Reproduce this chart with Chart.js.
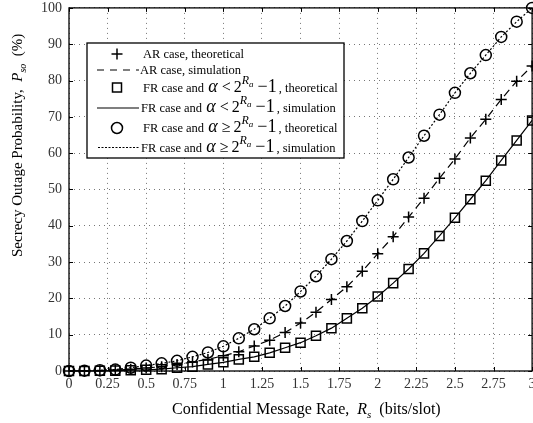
<!DOCTYPE html>
<html>
<head>
  <title>Secrecy outage probability</title>
  <script src="https://cdn.jsdelivr.net/npm/chart.js"></script>
  <style>
    body { margin: 0; overflow: hidden; background: #fff; }
  </style>
</head>
<body>
  <canvas id="myChart" width="540" height="423"></canvas>
  <script>
    // message rate Rs (bits/slot)
    var rates = [0, 0.1, 0.2, 0.3, 0.4, 0.5, 0.6, 0.7, 0.8, 0.9, 1.0,
                 1.1, 1.2, 1.3, 1.4, 1.5, 1.6, 1.7, 1.8, 1.9, 2.0,
                 2.1, 2.2, 2.3, 2.4, 2.5, 2.6, 2.7, 2.8, 2.9, 3.0];
    // AR case (%)
    var arCase = [0, 0.03, 0.1, 0.25, 0.5, 0.8, 1.2, 1.8, 2.5, 3.2, 4.2,
                  5.3, 6.9, 8.5, 10.6, 13.2, 16.2, 19.7, 23.2, 27.5, 32.3,
                  37.0, 42.4, 47.6, 53.1, 58.4, 64.2, 69.3, 74.8, 79.8, 84];
    // FR case, alpha < 2^Ra - 1 (%)
    var frLow = [0, 0.02, 0.05, 0.1, 0.2, 0.35, 0.5, 0.9, 1.2, 1.8, 2.4,
                 3.2, 3.9, 5.0, 6.4, 7.8, 9.7, 11.8, 14.5, 17.3, 20.5,
                 24.2, 28.1, 32.4, 37.2, 42.2, 47.3, 52.4, 58.0, 63.5, 69];
    // FR case, alpha >= 2^Ra - 1 (%)
    var frHigh = [0, 0.1, 0.2, 0.4, 0.9, 1.5, 2.1, 2.8, 3.9, 5.1, 6.8,
                  9.0, 11.5, 14.5, 17.9, 21.9, 26.1, 30.8, 35.8, 41.3, 47.0,
                  52.8, 58.8, 64.8, 70.6, 76.6, 82.0, 87.0, 92.0, 96.2, 100];
    var xTicks = [0, 0.25, 0.5, 0.75, 1, 1.25, 1.5, 1.75, 2, 2.25, 2.5, 2.75, 3];

    var serif = 'Liberation Serif';

    function puntos(arr) {
      return rates.map(function (r, i) { return { x: r, y: arr[i] }; });
    }

    // dibuja texto con trozos de distinta fuente (sub/superindices)
    function textoRico(ctx, x, y, partes) {
      for (var i = 0; i < partes.length; i++) {
        var p = partes[i];
        x += p.gap || 0;
        ctx.font = p.f;
        ctx.fillText(p.t, x, y + (p.dy || 0));
        x += ctx.measureText(p.t).width;
      }
      return x;
    }

    function formula(sign, cola) {
      return [
        { t: 'FR case and ', f: '12.5px ' + serif },
        { t: '\u03b1', f: 'italic 18px ' + serif, gap: 1 },
        { t: sign, f: '16px ' + serif, gap: 4 },
        { t: '2', f: '16px ' + serif, gap: 3 },
        { t: 'R', f: 'italic 12px ' + serif, dy: -8 },
        { t: 'a', f: 'italic 9px ' + serif, dy: -5 },
        { t: '\u2212', f: '18px ' + serif, gap: 4 },
        { t: '1', f: '18px ' + serif },
        { t: cola, f: '12.5px ' + serif, gap: 2 }
      ];
    }

    var decor = {
      id: 'decor',
      beforeDatasetsDraw: function (chart) {
        var ctx = chart.ctx, a = chart.chartArea;
        var sx = chart.scales.x, sy = chart.scales.y;
        ctx.save();
        ctx.strokeStyle = '#000';
        ctx.lineWidth = 1.3;
        ctx.strokeRect(a.left, a.top, a.right - a.left, a.bottom - a.top);
        ctx.lineWidth = 1;
        ctx.beginPath();
        sy.ticks.forEach(function (t) {
          var y = Math.round(sy.getPixelForValue(t.value)) + 0.5;
          ctx.moveTo(a.left, y); ctx.lineTo(a.left + 4, y);
          ctx.moveTo(a.right, y); ctx.lineTo(a.right - 4, y);
        });
        sx.ticks.forEach(function (t) {
          var x = Math.round(sx.getPixelForValue(t.value)) + 0.5;
          ctx.moveTo(x, a.bottom); ctx.lineTo(x, a.bottom - 4);
          ctx.moveTo(x, a.top); ctx.lineTo(x, a.top + 4);
        });
        ctx.stroke();
        ctx.restore();
      },
      afterDraw: function (chart) {
        var ctx = chart.ctx;
        ctx.save();
        ctx.fillStyle = '#000';
        ctx.textBaseline = 'alphabetic';

        // titulo eje x
        textoRico(ctx, 172, 414, [
          { t: 'Confidential Message Rate,  ', f: '16px ' + serif },
          { t: 'R', f: 'italic 16px ' + serif },
          { t: 's', f: 'italic 11px ' + serif, dy: 4 },
          { t: '  (bits/slot)', f: '16px ' + serif }
        ]);

        // titulo eje y
        ctx.save();
        ctx.translate(22, 257);
        ctx.rotate(-Math.PI / 2);
        textoRico(ctx, 0, 0, [
          { t: 'Secrecy Outage Probability,  ', f: '15px ' + serif },
          { t: 'P', f: 'italic 15px ' + serif },
          { t: 'so', f: 'italic 10px ' + serif, dy: 4 },
          { t: '  (%)', f: '15px ' + serif }
        ]);
        ctx.restore();

        // leyenda
        ctx.fillStyle = '#fff';
        ctx.fillRect(87, 43, 257, 115);
        ctx.strokeStyle = '#000';
        ctx.lineWidth = 1.3;
        ctx.strokeRect(87, 43, 257, 115);

        ctx.lineWidth = 1.5;
        // cruz
        ctx.beginPath();
        ctx.moveTo(111.5, 54); ctx.lineTo(122.5, 54);
        ctx.moveTo(117, 48.5); ctx.lineTo(117, 59.5);
        ctx.stroke();
        // cuadrado
        ctx.strokeRect(112.5, 83, 9, 9);
        // circulo
        ctx.beginPath();
        ctx.arc(117, 128, 5.5, 0, Math.PI * 2);
        ctx.stroke();
        // lineas
        ctx.lineWidth = 1.2;
        ctx.setLineDash([7, 6]);
        ctx.beginPath(); ctx.moveTo(97, 70); ctx.lineTo(139, 70); ctx.stroke();
        ctx.setLineDash([]);
        ctx.beginPath(); ctx.moveTo(97, 108); ctx.lineTo(139, 108); ctx.stroke();
        ctx.setLineDash([2, 1.5]);
        ctx.beginPath(); ctx.moveTo(98, 147.5); ctx.lineTo(139, 147.5); ctx.stroke();
        ctx.setLineDash([]);

        ctx.fillStyle = '#000';
        textoRico(ctx, 143, 58, [{ t: 'AR case, theoretical', f: '12.5px ' + serif }]);
        textoRico(ctx, 140, 74, [{ t: 'AR case, simulation', f: '12.5px ' + serif }]);
        textoRico(ctx, 143, 92, formula('<', ', theoretical'));
        textoRico(ctx, 141, 112, formula('<', ', simulation'));
        textoRico(ctx, 143, 132, formula('\u2265', ', theoretical'));
        textoRico(ctx, 141, 152, formula('\u2265', ', simulation'));
        ctx.restore();
      }
    };

    function serie(arr, extra) {
      var d = {
        data: puntos(arr),
        borderColor: '#000',
        backgroundColor: 'rgba(0,0,0,0)',
        clip: false
      };
      for (var k in extra) d[k] = extra[k];
      return d;
    }

    var ctx = document.getElementById('myChart').getContext('2d');
    new Chart(ctx, {
      type: 'line',
      data: {
        datasets: [
          serie(frLow, { showLine: true, borderWidth: 1.2, pointRadius: 0 }),
          serie(arCase, { showLine: true, borderWidth: 1.2, borderDash: [8, 5], pointRadius: 0 }),
          serie(frHigh, { showLine: true, borderWidth: 1.2, borderDash: [2, 2], pointRadius: 0 }),
          serie(frLow, { showLine: false, pointStyle: 'rect', pointRadius: 6.4, pointBorderWidth: 1.5, pointBorderColor: '#000', pointBackgroundColor: 'rgba(0,0,0,0)' }),
          serie(arCase, { showLine: false, pointStyle: 'cross', pointRadius: 5.5, pointBorderWidth: 1.5, pointBorderColor: '#000' }),
          serie(frHigh, { showLine: false, pointStyle: 'circle', pointRadius: 5.5, pointBorderWidth: 1.5, pointBorderColor: '#000', pointBackgroundColor: 'rgba(0,0,0,0)' })
        ]
      },
      options: {
        responsive: false,
        devicePixelRatio: 1,
        animation: false,
        layout: { padding: { top: 5, right: 7, left: 0, bottom: 0 } },
        plugins: { legend: { display: false }, tooltip: { enabled: false } },
        elements: { line: { tension: 0 } },
        scales: {
          x: {
            type: 'linear',
            min: 0,
            max: 3,
            afterBuildTicks: function (s) {
              s.ticks = xTicks.map(function (v) { return { value: v }; });
            },
            afterFit: function (s) {
              s.height = 52;
              s.paddingLeft = 0;
              s.paddingRight = 0;
            },
            ticks: {
              autoSkip: false,
              maxRotation: 0,
              padding: 5,
              color: '#333',
              font: { family: serif, size: 14 },
              callback: function (v) { return String(v); }
            },
            grid: { color: '#777', lineWidth: 1, drawTicks: false },
            border: { display: false, dash: [1, 4] }
          },
          y: {
            min: 0,
            max: 100,
            afterFit: function (s) {
              s.width = 69;
              s.paddingTop = 0;
              s.paddingBottom = 0;
            },
            ticks: {
              stepSize: 5,
              padding: 7,
              color: '#333',
              font: { family: serif, size: 14 },
              callback: function (v) { return v % 10 === 0 ? String(v) : ''; }
            },
            grid: { color: '#777', lineWidth: 1, drawTicks: false },
            border: { display: false, dash: [1, 4] }
          }
        }
      },
      plugins: [decor]
    });
  </script>
</body>
</html>
